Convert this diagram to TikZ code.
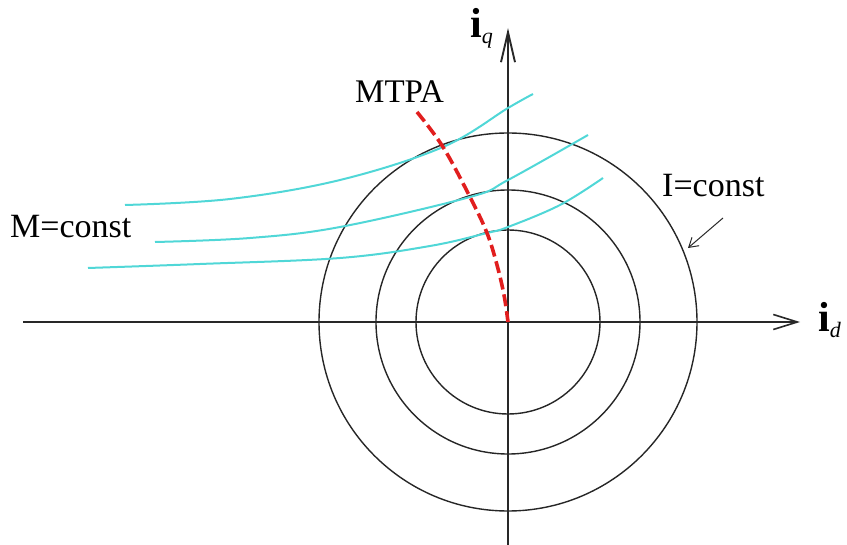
\documentclass[tikz,border=0pt]{standalone}
\usepackage{fontspec}
\setmainfont{Liberation Serif}
\usetikzlibrary{arrows.meta}
\definecolor{curvecyan}{RGB}{80,215,215}
\definecolor{mtpared}{RGB}{225,30,30}
\definecolor{axisgray}{RGB}{40,40,40}
\tikzset{
  axisline/.style={draw=axisgray, line width=1.3pt},
  circleline/.style={draw=black!85, line width=1.4pt},
  mcurve/.style={draw=curvecyan, line width=2pt},
  mtpaline/.style={draw=mtpared, line width=3.6pt, dash pattern=on 12pt off 5pt},
  lbl/.style={anchor=base west, inner sep=0pt, font=\fontsize{34}{34}\selectfont},
}
\begin{document}
\begin{tikzpicture}[x=1pt,y=-1pt]
\useasboundingbox (0,0) rectangle (847,545);
% origin and axis ends
\coordinate (O) at (508,322);
\coordinate (xL) at (23,322);
\coordinate (xR) at (800,322);
\coordinate (yB) at (508,545);
\coordinate (yT) at (508,28);
% circles
\draw[circleline] (O) circle[radius=92pt];
\draw[circleline] (O) circle[radius=132pt];
\draw[circleline] (O) circle[radius=189pt];
% axes
\draw[axisline, -{Straight Barb[length=24pt,width=15pt,line width=1.6pt]}] (xL) -- (xR);
\draw[axisline, -{Straight Barb[length=30pt,width=14pt,line width=1.9pt]}] (yB) -- (yT);
% M=const curves
\draw[mcurve] plot[smooth, tension=0.6] coordinates {(125,205) (230,199) (340,180) (443,147) (508,108) (533,94)};
\draw[mcurve] plot[smooth, tension=0.6] coordinates {(155,242) (250,238) (340,227) (470,197) (508,180) (588,135)};
\draw[mcurve] plot[smooth, tension=0.6] coordinates {(88,268) (200,264) (340,258) (430,246) (487,233) (508,227) (560,205) (603,178)};
% MTPA curve
\draw[mtpaline] plot[smooth, tension=0.6] coordinates {(417,112) (443,147) (470,197) (487,233) (497,265) (504,295) (508,322)};
% labels
\node[lbl, font=\fontsize{33}{33}\selectfont] (mtpa) at (355,103) {MTPA};
\node[lbl] (mconst) at (10,238) {M=const};
\node[lbl] (iconst) at (662,197) {I=const};
\node[anchor=base west, inner sep=0pt, font=\fontsize{42}{42}\selectfont] (iq) at (470,38) {\textbf{i}\raisebox{-6pt}{\fontsize{22}{22}\selectfont\textit{q}}};
\node[anchor=base west, inner sep=0pt, font=\fontsize{42}{42}\selectfont] (id) at (818,332) {\textbf{i}\raisebox{-6pt}{\fontsize{22}{22}\selectfont\textit{d}}};
% pointer arrow
\coordinate (pa) at (723,218);
\coordinate (pb) at (688,248);
\draw[draw=axisgray, line width=1pt, -{Straight Barb[length=9pt,width=11pt]}] (pa) -- (pb);
\end{tikzpicture}
\end{document}
